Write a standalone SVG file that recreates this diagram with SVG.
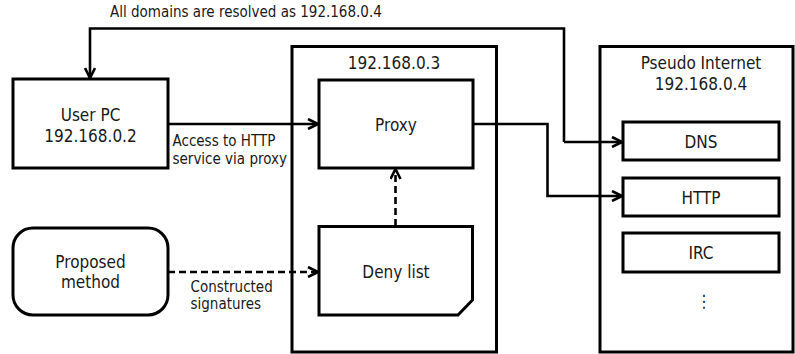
<svg xmlns="http://www.w3.org/2000/svg" width="795" height="354" viewBox="0 0 795 354">
  <defs>
    <style>
      text { font-family: "DejaVu Sans Condensed", "DejaVu Sans", sans-serif; font-stretch: condensed; fill: #1a1a1a; }
      .big { font-size: 17px; text-anchor: middle; }
      .small { font-size: 15px; }
      .box { fill: #ffffff; stroke: #000000; stroke-width: 3; }
      .line { fill: none; stroke: #000000; stroke-width: 2.6; }
      .dash { stroke-dasharray: 7 4; }
    </style>
    <marker id="arrow" viewBox="0 0 12 12" refX="11" refY="6" markerWidth="12" markerHeight="12" markerUnits="userSpaceOnUse" orient="auto">
      <path d="M1,1 L11,6 L1,11" fill="none" stroke="#000000" stroke-width="2.6"/>
    </marker>
    <marker id="arrow-start" viewBox="0 0 12 12" refX="11" refY="6" markerWidth="12" markerHeight="12" markerUnits="userSpaceOnUse" orient="auto-start-reverse">
      <path d="M1,1 L11,6 L1,11" fill="none" stroke="#000000" stroke-width="2.6"/>
    </marker>
  </defs>

  <rect width="795" height="354" fill="#ffffff"/>

  <!-- container hosts -->
  <g id="proxy-host">
    <rect class="box" x="292" y="46.5" width="204.5" height="305.5"/>
    <text class="big" x="394" y="69">192.168.0.3</text>
  </g>
  <g id="pseudo-internet">
    <rect class="box" x="600" y="46.5" width="193" height="305.5"/>
    <text class="big" x="701" y="69">Pseudo Internet</text>
    <text class="big" x="701" y="90">192.168.0.4</text>
  </g>

  <!-- connectors -->
  <g id="connectors">
    <path class="line" d="M564,142 H622" marker-end="url(#arrow)"/>
    <path class="line" d="M564,142 V28.5 H90 V78" marker-end="url(#arrow)"/>
    <path class="line" d="M168,124 H318" marker-end="url(#arrow)"/>
    <path class="line" d="M473,124 H547.5 V196 H622" marker-end="url(#arrow)"/>
    <path class="line dash" d="M168,272 H318" marker-end="url(#arrow)"/>
    <path class="line dash" d="M395.5,226 V169" marker-end="url(#arrow)"/>
  </g>

  <g id="user-pc">
    <rect class="box" x="13" y="79" width="155" height="89"/>
    <text class="big" x="90.5" y="121">User PC</text>
    <text class="big" x="90.5" y="142">192.168.0.2</text>
  </g>

  <g id="proposed-method">
    <rect class="box" x="13" y="228" width="155" height="87" rx="20" ry="20"/>
    <text class="big" x="90.5" y="268">Proposed</text>
    <text class="big" x="90.5" y="288">method</text>
  </g>

  <g id="proxy">
    <rect class="box" x="319" y="80" width="154" height="88"/>
    <text class="big" x="396" y="131">Proxy</text>
  </g>

  <g id="deny-list">
    <path class="box" d="M319,226.5 H472.5 V300 L458,315 H319 Z"/>
    <text class="big" x="396" y="278">Deny list</text>
  </g>

  <g id="dns">
    <rect class="box" x="623" y="122" width="156" height="38"/>
    <text class="big" x="701" y="148">DNS</text>
  </g>
  <g id="http">
    <rect class="box" x="623" y="178" width="156" height="38"/>
    <text class="big" x="701" y="204">HTTP</text>
  </g>
  <g id="irc">
    <rect class="box" x="623" y="233" width="156" height="39"/>
    <text class="big" x="701" y="259">IRC</text>
  </g>
  <text class="big" x="704" y="307">⋮</text>

  <!-- connector labels -->
  <text class="small" x="110" y="17">All domains are resolved as 192.168.0.4</text>
  <text class="small" x="172.5" y="145.5">Access to HTTP</text>
  <text class="small" x="172.5" y="163.5">service via proxy</text>
  <text class="small" x="190.5" y="291.5">Constructed</text>
  <text class="small" x="190.5" y="308.5">signatures</text>
</svg>
